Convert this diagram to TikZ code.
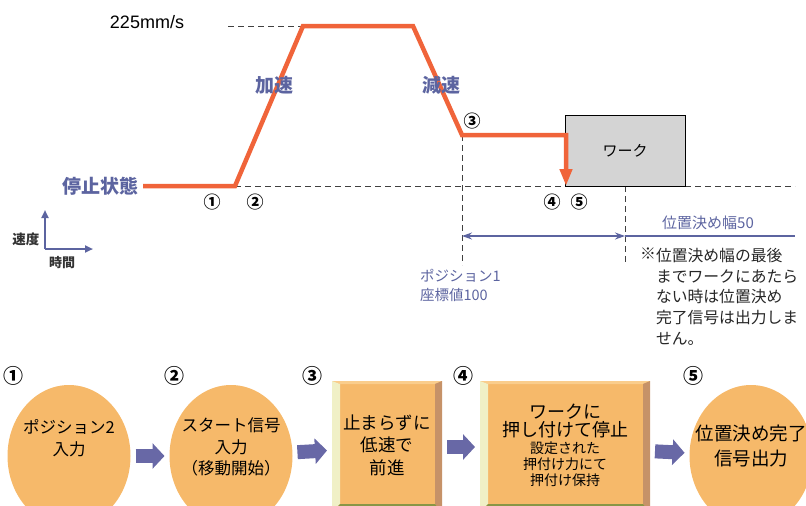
\documentclass[tikz,border=0pt]{standalone}
\usepackage{fontspec}
\setmainfont{Noto Sans CJK JP}
\newfontfamily\latinfont{Liberation Sans}
\usetikzlibrary{arrows.meta, positioning, shapes.geometric, calc}

\definecolor{ProfileOrange}{RGB}{240,100,58}
\definecolor{LabelBlue}{RGB}{92,100,160}
\definecolor{StepOrange}{RGB}{246,185,106}
\definecolor{FlowBlue}{RGB}{104,104,166}
\definecolor{WorkGray}{RGB}{212,212,212}
\definecolor{BevelLight}{RGB}{240,240,198}
\definecolor{BevelDark}{RGB}{198,146,104}
\definecolor{BevelBottom}{RGB}{136,150,70}
\definecolor{BevelTop}{RGB}{250,205,140}

\begin{document}
\begin{tikzpicture}[x=1pt, y=-1pt,
  every node/.style={inner sep=0pt, outer sep=0pt},
  profile/.style={ProfileOrange, line width=4.5pt, line join=miter},
  guide/.style={dash pattern=on 6pt off 4pt, line width=0.8pt, black!75},
  tag/.style={font=\fontsize{19}{22}\selectfont\bfseries, text=LabelBlue},
  smalltag/.style={font=\fontsize{14.5}{19}\selectfont, text=LabelBlue, align=left},
  note/.style={font=\fontsize{15.8}{20.8}\selectfont, text=black!85, align=left},
  num/.style={font=\fontsize{17}{17}\selectfont\bfseries},
  stepnum/.style={font=\fontsize{20}{20}\selectfont\bfseries},
  stepcircle/.style={ellipse, fill=StepOrange, minimum width=123pt, minimum height=142pt},
  steptext/.style={align=center, font=\fontsize{16.5}{21.5}\selectfont},
  stepbox/.style={rectangle, fill=StepOrange, minimum height=132pt,
    path picture={
      \fill[BevelTop] (path picture bounding box.north west) -- (path picture bounding box.north east)
        -- ++(-7pt,-3pt) -- ($(path picture bounding box.north west)+(8pt,-3pt)$) -- cycle;
      \fill[BevelLight] (path picture bounding box.north west) -- ++(8pt,-3pt)
        -- ($(path picture bounding box.south west)+(8pt,9pt)$) -- (path picture bounding box.south west) -- cycle;
      \fill[BevelDark] (path picture bounding box.north east) -- ++(-7pt,-3pt)
        -- ($(path picture bounding box.south east)+(-7pt,9pt)$) -- (path picture bounding box.south east) -- cycle;
      \fill[BevelBottom] (path picture bounding box.south west) -- ++(8pt,9pt)
        -- ($(path picture bounding box.south east)+(-7pt,9pt)$) -- (path picture bounding box.south east) -- cycle;
    }},
  workbox/.style={draw, line width=1pt, fill=WorkGray, minimum width=120pt, minimum height=71pt,
    font=\fontsize{15}{15}\selectfont},
  flow/.style={-{Triangle[length=12pt,width=25pt]}, line width=14pt, FlowBlue, shorten <=5pt, shorten >=5pt},
  dimarrow/.style={{Stealth[length=10pt,width=7pt]}-{Stealth[length=10pt,width=7pt]}, LabelBlue, line width=1.3pt},
  axisarrow/.style={-{Triangle[length=8pt,width=7pt]}, LabelBlue, line width=2pt}
]
\useasboundingbox (0,0) rectangle (806,506);
\clip (0,0) rectangle (806,506);

% Speed profile points
\coordinate (stop) at (143,186);
\coordinate (start) at (235,186);
\coordinate (topl) at (303,26);
\coordinate (topr) at (413,26);
\coordinate (slow) at (462,135);
\coordinate (touch) at (566,135);
\coordinate (halt) at (566,186);
\coordinate (vtop) at (228,26);
\coordinate (baseend) at (795,186);
\coordinate (pos1) at (462,265);
\coordinate (endw) at (625,186);
\coordinate (endb) at (625,265);

% Guide lines
\draw[guide] (vtop) -- (topl);
\draw[guide] (start) -- (baseend);
\draw[guide] (slow) -- (pos1);
\draw[guide] (endw) -- (endb);

% Work
\node[workbox] (work) at (625,150.5) {ワーク};

% Profile
\draw[profile, -{Triangle[length=17pt,width=12pt]}] (stop) -- (start) -- (topl) -- (topr) -- (slow) -- (touch) -- (halt);

% Labels on the profile
\node[font=\latinfont\fontsize{18}{18}\selectfont] (vmax) at (147,22) {225mm/s};
\node[tag, anchor=east] (stoptag) at (138,186) {停止状態};
\node[tag] (acc) at (274,85) {加速};
\node[tag] (dec) at (441,85) {減速};
\node[num] (n1) at (212,202) {①};
\node[num] (n2) at (255,202) {②};
\node[num] (n3) at (472,121) {③};
\node[num] (n4) at (552,202) {④};
\node[num] (n5) at (579,202) {⑤};

% Positioning width
\coordinate (dimL) at (462,236);
\coordinate (dimR) at (625,236);
\coordinate (dimE) at (795,236);
\draw[dimarrow] (dimL) -- (dimR);
\draw[LabelBlue, line width=1.3pt] (dimR) -- (dimE);
\node[smalltag, font=\fontsize{15}{15}\selectfont] (width) at (708,223) {位置決め幅50};
\node[smalltag, anchor=north west] (pos1tag) at (420,269) {ポジション1\\座標値100};
\node[note, anchor=north west] (remark) at (656,248) {位置決め幅の最後\\までワークにあたら\\ない時は位置決め\\完了信号は出力しま\\せん。};
\node[note, anchor=north east] (mark) at (remark.north west) {※};

% Axis icon
\coordinate (ax0) at (45,249);
\coordinate (axv) at (45,210);
\coordinate (axh) at (93,249);
\draw[axisarrow] (ax0) -- (axv);
\draw[axisarrow] (ax0) -- (axh);
\node[font=\fontsize{13.5}{13.5}\selectfont\bfseries, text=black!80] (speed) at (26,239) {速度};
\node[font=\fontsize{13}{13}\selectfont\bfseries, text=black!80] (time) at (62,263) {時間};

% Steps
\node[stepnum] (k1) at (14,376) {①};
\node[stepnum] (k2) at (174,376) {②};
\node[stepnum] (k3) at (312,376) {③};
\node[stepnum] (k4) at (463,376) {④};
\node[stepnum] (k5) at (693,376) {⑤};

\node[stepcircle] (s1) at (69,456) {};
\node[steptext] at ([yshift=18pt]s1.center) {ポジション2\\入力};
\node[stepcircle] (s2) at (231,456) {};
\node[steptext] at ([yshift=9pt]s2.center) {スタート信号\\入力\\（移動開始）};
\node[stepbox, minimum width=110pt] (b3) at (387,447) {};
\node[steptext, font=\fontsize{17.5}{22.5}\selectfont] at ([yshift=2pt]b3.center) {止まらずに\\低速で\\前進};
\node[stepbox, minimum width=170pt] (b4) at (565,447) {};
\node[steptext, font=\fontsize{18}{17.5}\selectfont] (b4head) at (565,421) {ワークに\\押し付けて停止};
\node[steptext, font=\fontsize{14}{16}\selectfont, below=4pt of b4head] (b4sub) {設定された\\押付け力にて\\押付け保持};
\node[stepcircle] (s5) at (751,456) {};
\node[steptext, font=\fontsize{18.5}{25}\selectfont] at ([yshift=10pt]s5.center) {位置決め完了\\信号出力};

\draw[flow] (s1) -- (s2);
\draw[flow] (s2) -- (b3);
\draw[flow] (b3) -- (b4);
\draw[flow] (b4) -- (s5);

\end{tikzpicture}
\end{document}
